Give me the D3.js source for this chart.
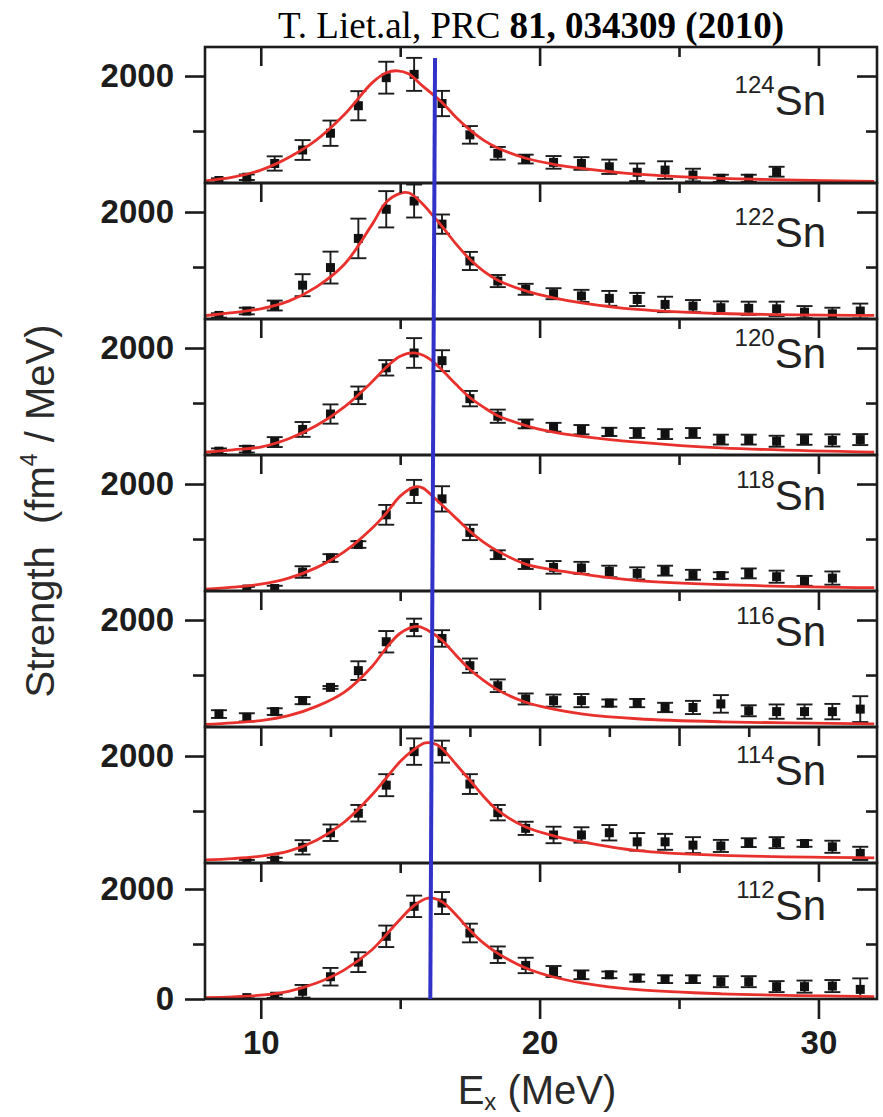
<!DOCTYPE html>
<html><head><meta charset="utf-8">
<script src="https://cdn.jsdelivr.net/npm/d3@7"></script>
<style>
html,body{margin:0;padding:0;background:#fff;}
svg{display:block;}
</style></head><body>
<script>
// ================= DATA =================
const isotopes = ["124", "122", "120", "118", "116", "114", "112"];
const energies = [8.5, 9.5, 10.5, 11.5, 12.5, 13.5, 14.5, 15.5, 16.5, 17.5, 18.5, 19.5,
                  20.5, 21.5, 22.5, 23.5, 24.5, 25.5, 26.5, 27.5, 28.5, 29.5, 30.5, 31.5];

const strength124 = [100,160,410,655,960,1460,1970,2030,1500,930,595,490,430,410,350,250,290,200,140,140,260,null,null,null];
const error124    = [40,50,130,180,230,265,290,300,230,160,115,80,115,115,130,160,160,115,65,65,90,null,null,null];
const strength122 = [120,200,300,670,990,1520,2050,2200,1780,1110,745,595,515,475,430,410,320,290,260,250,240,180,150,200];
const error122    = [40,60,90,200,290,360,330,300,175,165,110,100,100,110,135,120,140,110,115,120,130,110,110,135];
const strength120 = [125,160,290,520,800,1140,1640,1910,1770,1080,760,620,560,515,475,455,435,455,335,335,305,335,320,335];
const error120    = [50,60,90,135,175,160,140,270,190,140,120,80,80,85,75,90,90,90,90,90,100,95,110,100];
const strength118 = [null,90,100,400,655,900,1440,1865,1730,1120,715,545,485,475,410,375,425,350,335,375,315,240,290,null];
const error118    = [null,40,50,105,70,60,180,210,230,140,80,90,115,110,105,110,90,90,60,90,110,90,120,null];
const strength116 = [290,230,335,535,775,1080,1605,1865,1665,1170,805,565,535,535,490,490,410,410,475,350,335,335,335,380];
const error116    = [70,75,60,65,25,170,195,160,150,130,115,100,110,120,65,75,85,120,160,100,130,130,140,235];
const strength114 = [null,80,110,340,605,960,1470,2080,2080,1490,970,685,565,565,605,440,440,380,365,425,425,410,350,230];
const error114    = [null,30,40,130,150,150,200,240,200,180,140,120,150,140,140,160,145,145,110,80,100,60,110,120];
const strength112 = [null,25,50,140,405,670,1140,1685,1745,1200,805,610,500,440,440,380,360,360,315,315,225,225,235,175];
const error112    = [null,20,30,115,160,180,195,195,200,170,150,140,100,80,60,65,70,70,100,100,100,110,110,200];

// fitted curves
const fit124E = [8,9,10,11,12,13,14,14.5,14.9,15.3,15.8,16.5,17,17.5,18,18.5,19.5,20.5,21.5,23.5,26.5,32];
const fit124S = [95,160,290,520,840,1300,1880,2060,2095,2040,1820,1520,1250,1020,830,690,505,395,320,215,140,85];
const fit122E = [8,9,10,11,12,13,14,14.5,15,15.3,15.7,16.2,16.5,17,17.5,18,18.5,19.5,20.5,21.5,23.5,26.5,32];
const fit122S = [115,170,240,380,640,1050,1780,2180,2340,2350,2200,1920,1740,1420,1140,920,760,565,440,350,230,155,120];
const fit120E = [8,9,10,11,12,13,14,14.5,15,15.5,16,16.5,17,17.5,18,18.5,19.5,20.5,21.5,23.5,26.5,32];
const fit120S = [105,150,200,350,590,930,1390,1650,1850,1910,1820,1600,1340,1100,920,770,590,470,395,290,185,105];
const fit118E = [8,9,10,11,12,13,14,14.5,15,15.5,15.8,16.2,16.5,17,17.5,18,18.5,19.5,20.5,21.5,23.5,26.5,32];
const fit118S = [90,125,180,290,480,770,1200,1470,1780,1945,1930,1760,1620,1380,1140,940,780,545,440,365,245,170,115];
const fit116E = [8,9,10,11,12,13,14,14.5,15,15.6,16,16.5,17,17.5,18,18.5,19.5,20.5,21.5,23.5,26.5,32];
const fit116S = [100,130,170,260,430,690,1160,1490,1760,1885,1810,1630,1360,1100,900,730,505,380,295,205,150,110];
const fit114E = [8,9,10,11,12,13,14,14.5,15,15.5,15.9,16.3,16.7,17,17.5,18,18.5,19.5,20.5,21.5,23.5,26.5,32];
const fit114S = [110,135,180,270,470,800,1300,1600,1900,2120,2240,2210,2030,1850,1560,1260,1010,710,550,440,280,195,150];
const fit112E = [8,9,10,11,12,13,14,14.5,15,15.5,16,16.5,17,17.5,18,18.5,19.5,20.5,21.5,23.5,26.5,32];
const fit112S = [25,40,70,140,290,530,900,1170,1450,1700,1835,1770,1530,1250,1010,830,565,400,295,170,95,45];

const xTicksMajor = [10, 20, 30];
const xTicksMinor = [15, 25];
const xTicksDense = [12.5, 17.5, 22.5, 27.5];
const yTicksMajor = [2000];
const yTicksMinor = [1000];
const blueLineE = [16.25, 16.08];   // energy at top, energy at bottom
const titleRegular = "T. Liet.al, PRC ";
const titleBold = "81, 034309 (2010)";
const xTitle = ["E", "x", " (MeV)"];
const yTitle = ["Strength  (fm", "4", " / MeV)"];

const panels = [
  {A: isotopes[0], s: strength124, e: error124, fx: fit124E, fy: fit124S},
  {A: isotopes[1], s: strength122, e: error122, fx: fit122E, fy: fit122S},
  {A: isotopes[2], s: strength120, e: error120, fx: fit120E, fy: fit120S},
  {A: isotopes[3], s: strength118, e: error118, fx: fit118E, fy: fit118S},
  {A: isotopes[4], s: strength116, e: error116, fx: fit116E, fy: fit116S},
  {A: isotopes[5], s: strength114, e: error114, fx: fit114E, fy: fit114S},
  {A: isotopes[6], s: strength112, e: error112, fx: fit112E, fy: fit112S}
];

// ================= LAYOUT =================
const W = 883, H = 1117;
const L = 205, R = 877, T0 = 47, PH = 136, PX_PER_1000 = 55;
const yFloor = [55, 55, 55, 55, 55, 55, 0];
const labelBase = [68, 64, 49, 55, 55, 58, 57];
const INK = "#1c1c1c";
const SANS = "'Liberation Sans', Arial, Helvetica, sans-serif";
const SERIF = "'Liberation Serif', 'Times New Roman', Times, serif";

const svg = d3.select("body").append("svg").attr("width", W).attr("height", H);
const x = d3.scaleLinear().domain([8, 32.1]).range([L, R]);

function styleAxis(sel, labels) {
  sel.select(".domain").remove();
  sel.selectAll(".tick line").attr("stroke", INK).attr("stroke-width", 2.6);
  sel.selectAll(".tick text")
    .attr("fill", INK)
    .style("font-family", SANS).style("font-weight", "bold").style("font-size", "33px");
  if (!labels) sel.selectAll(".tick text").remove();
}

const line = d3.line().curve(d3.curveCatmullRom.alpha(0.5));

panels.forEach((p, i) => {
  const top = T0 + i * PH, bot = top + PH;
  const y = d3.scaleLinear().domain([yFloor[i], yFloor[i] + PH / PX_PER_1000 * 1000]).range([bot, top]);
  const g = svg.append("g");

  const cid = "clip" + i;
  svg.append("clipPath").attr("id", cid).append("rect")
    .attr("x", L).attr("y", top).attr("width", R - L).attr("height", PH);

  const inner = g.append("g").attr("clip-path", `url(#${cid})`);

  const pts = energies.map((E, k) => ({E, v: p.s[k], err: p.e[k]})).filter(d => d.v != null);

  // error bars
  const eb = inner.append("g").attr("stroke", INK).attr("stroke-width", 1.9).attr("fill", "none");
  pts.forEach(d => {
    const xx = x(d.E), y1 = y(d.v + d.err), y2 = y(d.v - d.err);
    eb.append("line").attr("x1", xx).attr("x2", xx).attr("y1", y1).attr("y2", y2);
    eb.append("line").attr("x1", xx - 8).attr("x2", xx + 8).attr("y1", y1).attr("y2", y1);
    eb.append("line").attr("x1", xx - 8).attr("x2", xx + 8).attr("y1", y2).attr("y2", y2);
  });
  // markers
  inner.append("g").selectAll("rect").data(pts).join("rect")
    .attr("x", d => x(d.E) - 4.5).attr("y", d => y(d.v) - 4.5)
    .attr("width", 9).attr("height", 9).attr("fill", "#111");

  // fit curve
  inner.append("path")
    .attr("d", line(p.fx.map((E, k) => [x(E), y(p.fy[k])])))
    .attr("fill", "none").attr("stroke", "#e8312c").attr("stroke-width", 2.8)
    .attr("stroke-linejoin", "round");

  // frame
  g.append("rect").attr("x", L).attr("y", top).attr("width", R - L).attr("height", PH)
    .attr("fill", "none").attr("stroke", INK).attr("stroke-width", 2.6);

  // left axis
  const yl = g.append("g").attr("transform", `translate(${L},0)`)
    .call(d3.axisLeft(y).tickValues(i === 6 ? [0].concat(yTicksMajor) : yTicksMajor)
      .tickSize(20).tickPadding(11).tickFormat(d3.format("d")));
  styleAxis(yl, true);
  const ylm = g.append("g").attr("transform", `translate(${L},0)`)
    .call(d3.axisLeft(y).tickValues(yTicksMinor).tickSize(12));
  styleAxis(ylm, false);
  // right axis (inward)
  const yr = g.append("g").attr("transform", `translate(${R},0)`)
    .call(d3.axisRight(y).tickValues(yTicksMajor).tickSize(-20));
  styleAxis(yr, false);
  const yrm = g.append("g").attr("transform", `translate(${R},0)`)
    .call(d3.axisRight(y).tickValues(yTicksMinor).tickSize(-11));
  styleAxis(yrm, false);
  // top axis (inward)
  const dense = (i === 5);
  const xt = g.append("g").attr("transform", `translate(0,${top})`)
    .call(d3.axisTop(x).tickValues(dense ? xTicksMajor.concat(xTicksMinor) : xTicksMajor).tickSize(-19));
  styleAxis(xt, false);
  const xtm = g.append("g").attr("transform", `translate(0,${top})`)
    .call(d3.axisTop(x).tickValues(dense ? xTicksDense : xTicksMinor).tickSize(-10));
  styleAxis(xtm, false);

  if (i === 6) {
    const xb = g.append("g").attr("transform", `translate(0,${bot})`)
      .call(d3.axisBottom(x).tickValues(xTicksMajor).tickSize(20).tickPadding(12).tickFormat(d3.format("d")));
    styleAxis(xb, true);
    const xbm = g.append("g").attr("transform", `translate(0,${bot})`)
      .call(d3.axisBottom(x).tickValues(xTicksMinor).tickSize(10));
    styleAxis(xbm, false);
  }

  // isotope label
  const lab = g.append("text").attr("x", 826).attr("y", top + labelBase[i])
    .attr("text-anchor", "end").attr("fill", "#222").style("font-family", SANS);
  lab.append("tspan").attr("dy", -22).style("font-size", "24px").text(p.A);
  lab.append("tspan").attr("dy", 22).style("font-size", "42px").text("Sn");
});

// blue vertical line
svg.append("line")
  .attr("x1", x(blueLineE[0])).attr("y1", 58)
  .attr("x2", x(blueLineE[1])).attr("y2", T0 + 7 * PH)
  .attr("stroke", "#3232c8").attr("stroke-width", 4);

// title
const t = svg.append("text").attr("x", 531).attr("y", 38).attr("text-anchor", "middle")
  .attr("fill", "#000").style("font-family", SERIF).style("font-size", "37px");
t.append("tspan").text(titleRegular);
t.append("tspan").style("font-weight", "bold").text(titleBold);

// x title
const xtEl = svg.append("text").attr("x", 537).attr("y", 1104).attr("text-anchor", "middle")
  .attr("fill", "#2a2a2a").style("font-family", SANS).style("font-size", "40px");
xtEl.append("tspan").text(xTitle[0]);
xtEl.append("tspan").attr("dy", 6).style("font-size", "24px").text(xTitle[1]);
xtEl.append("tspan").attr("dy", -6).style("white-space", "pre").text(xTitle[2]);

// y title
const ytEl = svg.append("text").attr("transform", "translate(54,511) rotate(-90)")
  .attr("text-anchor", "middle").attr("fill", "#2a2a2a")
  .style("font-family", SANS).style("font-size", "40px").style("white-space", "pre");
ytEl.append("tspan").text(yTitle[0]);
ytEl.append("tspan").attr("dy", -17).style("font-size", "23px").text(yTitle[1]);
ytEl.append("tspan").attr("dy", 17).text(yTitle[2]);
</script>
</body></html>
